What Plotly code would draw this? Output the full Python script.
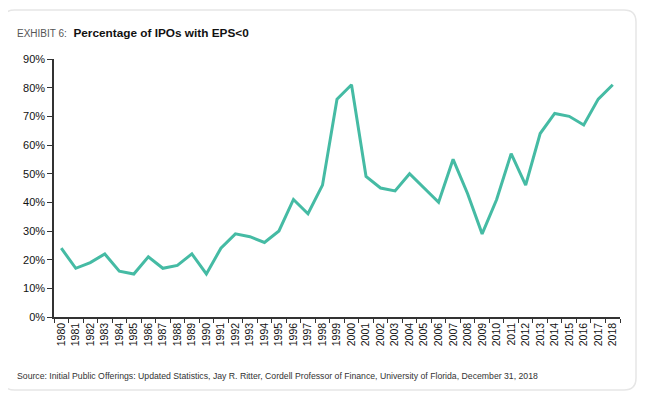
import plotly.graph_objects as go

years = [str(y) for y in range(1980, 2019)]
pct_neg_eps = [24, 17, 19, 22, 16, 15, 21, 17, 18, 22,
               15, 24, 29, 28, 26, 30, 41, 36, 46, 76,
               81, 49, 45, 44, 50, 45, 40, 55, 43, 29,
               41, 57, 46, 64, 71, 70, 67, 76, 81]
y_ticks = [0, 10, 20, 30, 40, 50, 60, 70, 80, 90]
y_tick_labels = [f"{v}%" for v in y_ticks]

W, H = 650, 400
OFF = 8  # page body offset in the screenshot
# plot area in screenshot pixels
PL, PR, PT, PB = 54, 620, 59, 317
L, T = PL - OFF, PT - OFF
R = W - (PR - OFF)
B = H - (PB - OFF)
pw, ph = PR - PL, PB - PT

def px_x(p):
    return (p - PL) / pw

def px_y(p):
    return (PB - p) / ph

# rounded card (screenshot pixel coords)
x0, x1, y0, y1, r = 2.5, 636, 10, 390, 12
def P(x, y):
    return f"{px_x(x):.5f},{px_y(y):.5f}"
card = (f"M {P(x0+r, y0)} L {P(x1-r, y0)} Q {P(x1, y0)} {P(x1, y0+r)} "
        f"L {P(x1, y1-r)} Q {P(x1, y1)} {P(x1-r, y1)} "
        f"L {P(x0+r, y1)} Q {P(x0, y1)} {P(x0, y1-r)} "
        f"L {P(x0, y0+r)} Q {P(x0, y0)} {P(x0+r, y0)} Z")

fig = go.Figure()
fig.add_trace(go.Scatter(
    x=years, y=pct_neg_eps, mode="lines",
    line=dict(color="#45bba4", width=3),
    hoverinfo="x+y",
))

font = "Liberation Sans, Arial, sans-serif"
fig.update_layout(
    width=W, height=H,
    margin=dict(l=L, r=R, t=T, b=B),
    paper_bgcolor="white", plot_bgcolor="white",
    showlegend=False,
    font=dict(family=font, color="#222222"),
    shapes=[dict(type="path", path=card, xref="paper", yref="paper",
                 line=dict(color="#e6e6e6", width=1.5), layer="below")],
    annotations=[
        dict(text="<span style='color:#555555;font-size:10px'>EXHIBIT 6:</span>  <b>Percentage of IPOs with EPS&lt;0</b>",
             xref="paper", yref="paper", x=px_x(15), y=px_y(33),
             xanchor="left", yanchor="middle", showarrow=False,
             font=dict(size=11.8, family=font, color="#111111")),
        dict(text="Source: Initial Public Offerings: Updated Statistics, Jay R. Ritter, Cordell Professor of Finance, University of Florida, December 31, 2018",
             xref="paper", yref="paper", x=px_x(15), y=px_y(376),
             xanchor="left", yanchor="middle", showarrow=False,
             font=dict(size=8.7, family=font, color="#333333")),
    ],
    xaxis=dict(
        type="category", tickson="boundaries",
        range=[-0.5, 38.5],
        showline=True, linecolor="#333333", linewidth=1.5,
        ticks="outside", ticklen=4, tickcolor="#333333", tickwidth=1.2,
        tickangle=-90, tickfont=dict(size=10.5, color="#111111"),
        showgrid=False, zeroline=False,
    ),
    yaxis=dict(
        range=[0, 90], tickvals=y_ticks, ticktext=y_tick_labels,
        showline=True, linecolor="#333333", linewidth=1.5,
        ticks="outside", ticklen=5, tickcolor="#333333", tickwidth=1.2,
        tickfont=dict(size=11, color="#111111"),
        showgrid=False, zeroline=False,
    ),
)

fig.write_html("out.html")
